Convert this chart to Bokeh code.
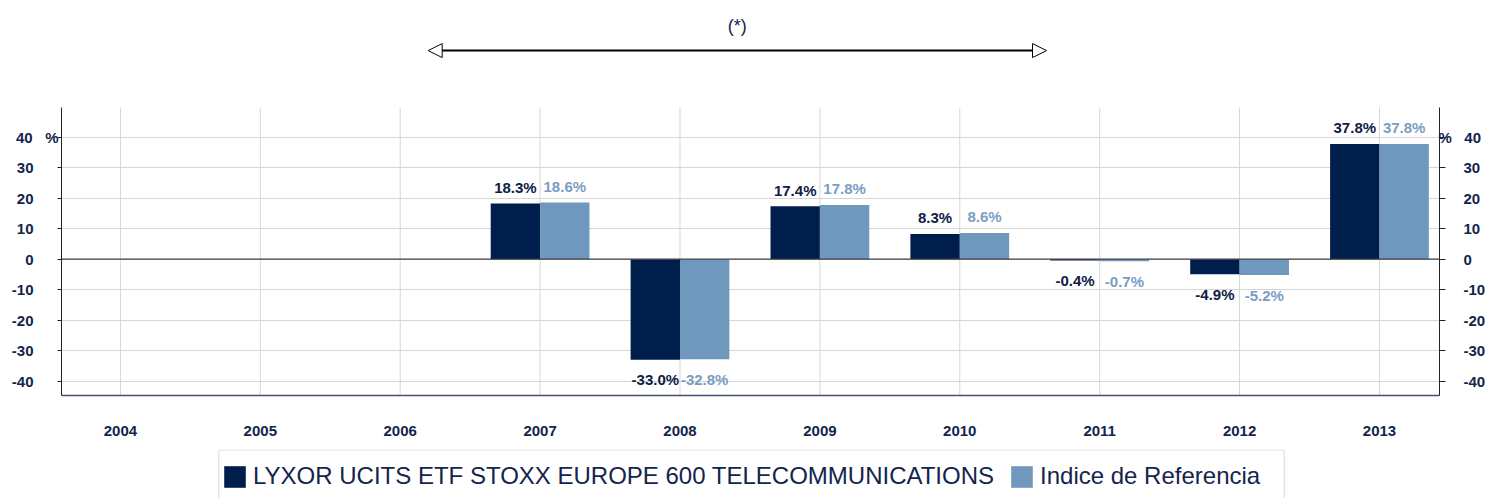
import numpy as np
from bokeh.plotting import figure
from bokeh.layouts import column
from bokeh.models import (ColumnDataSource, Range1d, LinearAxis, FixedTicker, Span,
                          Arrow, NormalHead, Label, Legend, LegendItem)
from bokeh.transform import dodge
from bokeh.core.properties import value
from bokeh.embed import file_html
from bokeh.resources import INLINE

# ---------------- data ----------------
years = ["2004", "2005", "2006", "2007", "2008", "2009", "2010", "2011", "2012", "2013"]
fund_returns = [None, None, None, 18.3, -33.0, 17.4, 8.3, -0.4, -4.9, 37.8]
index_returns = [None, None, None, 18.6, -32.8, 17.8, 8.6, -0.7, -5.2, 37.8]
y_tick_values = [-40, -30, -20, -10, 0, 10, 20, 30, 40]
fund_name = "LYXOR UCITS ETF STOXX EUROPE 600 TELECOMMUNICATIONS"
index_name = "Indice de Referencia"
period_note = "(*)"
unit_label = "%"
period_start = 2.2    # position on category axis (mid 2006)
period_end = 6.62     # position on category axis (late 2010)

# ---------------- styles ----------------
FONT = "Liberation Sans"
NAVY = "#13254d"
DARK = "#001E4B"
LIGHT = "#7098BD"
LIGHT_TXT = "#7A9DC3"
GRID = "#d6d6d6"
NBSP = "\u00a0"

W, H_MAIN, H_LEG = 1488, 449, 49
X0, X1 = -0.4211, 9.4290
Y0, Y_AXIS_TOP, Y1 = -44.69, 49.74, 84.82
ARROW_Y, NOTE_Y = 68.4, 76.6
BAR_W = 0.353
OFF = 0.1765

pos = np.arange(len(years))
valid = [i for i, v in enumerate(fund_returns) if v is not None]
f_vals = np.array([fund_returns[i] for i in valid])
i_vals = np.array([index_returns[i] for i in valid])

src = ColumnDataSource(dict(
    x=pos[valid],
    fund=f_vals,
    index=i_vals,
    fund_lbl=[f"{v:.1f}%" for v in f_vals],
    index_lbl=[f"{v:.1f}%" for v in i_vals],
    fund_off=np.where(f_vals >= 0, -16.0, 20.0),
    index_off=np.where(i_vals >= 0, -16.0, 20.0),
))
grid_src = ColumnDataSource(dict(x=pos, y0=np.full(len(pos), Y0), y1=np.full(len(pos), Y_AXIS_TOP)))

p = figure(width=W, height=H_MAIN, x_range=Range1d(X0, X1), y_range=Range1d(Y0, Y1),
           output_backend="svg", toolbar_location=None,
           min_border_left=61, min_border_right=47, min_border_top=0, min_border_bottom=54)
p.outline_line_color = None

# grids
p.xgrid.visible = False
p.ygrid.ticker = FixedTicker(ticks=y_tick_values)
p.ygrid.grid_line_color = GRID
p.ygrid.grid_line_width = 1
p.segment(x0="x", y0="y0", x1="x", y1="y1", source=grid_src, line_color=GRID, line_width=1)

# bars
r_f = p.vbar(x=dodge("x", -OFF, range=p.x_range), top="fund", width=BAR_W, source=src,
             fill_color=DARK, line_color=None)
r_i = p.vbar(x=dodge("x", OFF, range=p.x_range), top="index", width=BAR_W, source=src,
             fill_color=LIGHT, line_color=None)

p.add_layout(Span(location=0, dimension="width", line_color="#404040", line_width=1.3))

# value labels
p.text(x=dodge("x", -OFF, range=p.x_range), y="fund", text="fund_lbl", y_offset="fund_off",
       source=src, text_align="center", text_baseline="alphabetic",
       text_font=value(FONT), text_font_size="15px", text_font_style="bold", text_color="#0d2045")
p.text(x=dodge("x", OFF, range=p.x_range), y="index", text="index_lbl", y_offset="index_off",
       source=src, text_align="center", text_baseline="alphabetic",
       text_font=value(FONT), text_font_size="15px", text_font_style="bold", text_color=LIGHT_TXT)

# period arrow
arrow = Arrow(x_start=period_start, y_start=ARROW_Y, x_end=period_end, y_end=ARROW_Y,
              line_width=2, line_color="black",
              start=NormalHead(size=14, fill_color="white", line_color="black", line_width=1),
              end=NormalHead(size=14, fill_color="white", line_color="black", line_width=1))
p.add_layout(arrow)
p.add_layout(Label(x=(period_start + period_end) / 2, y=NOTE_Y, text=period_note,
                   text_align="center", text_baseline="middle",
                   text_font=FONT, text_font_size="18px", text_color=NAVY))

# x axis
xa = p.xaxis[0]
xa.ticker = FixedTicker(ticks=list(pos))
xa.major_label_overrides = {int(i): y for i, y in zip(pos, years)}
xa.major_tick_in = 0
xa.major_tick_out = 0
xa.minor_tick_line_color = None
xa.axis_line_color = "#44506e"
xa.axis_line_width = 1.3
xa.major_label_standoff = 30
xa.major_label_text_font = FONT
xa.major_label_text_font_size = "15px"
xa.major_label_text_font_style = "bold"
xa.major_label_text_color = NAVY

top_tick = max(y_tick_values)
left_labels = {t: (f"{t}{NBSP * 3}{unit_label}" if t == top_tick else f"{t}{NBSP * 6}")
               for t in y_tick_values}
right_labels = {t: (f"{unit_label}{NBSP * 3}{t}" if t == top_tick else f"{NBSP * 6}{t}")
                for t in y_tick_values}


def style_axis(ax, tick_out, standoff, overrides):
    ax.ticker = FixedTicker(ticks=y_tick_values)
    ax.bounds = (Y0, Y_AXIS_TOP)
    ax.major_tick_in = 0
    ax.major_tick_out = tick_out
    ax.minor_tick_line_color = None
    ax.axis_line_color = "#222222"
    ax.major_tick_line_color = "#222222"
    ax.major_label_standoff = standoff
    ax.major_label_overrides = overrides
    ax.major_label_text_font = FONT
    ax.major_label_text_font_size = "15px"
    ax.major_label_text_font_style = "bold"
    ax.major_label_text_color = NAVY


style_axis(p.yaxis[0], 4, -1, left_labels)
yr = LinearAxis()
style_axis(yr, 6, -7, right_labels)
p.add_layout(yr, "right")

# ---------------- legend strip ----------------
# x / y ranges of this strip follow page pixels so the legend frame sits where the reference has it
lf = figure(width=W, height=H_LEG, x_range=Range1d(61, 1441), y_range=Range1d(498, 449),
            output_backend="svg", toolbar_location=None,
            x_axis_location=None, y_axis_location=None,
            min_border_left=61, min_border_right=47, min_border_top=0, min_border_bottom=0)
lf.grid.visible = False
lf.outline_line_color = None
lf.quad(left=[218.5], right=[1285.5], top=[449.5], bottom=[510], fill_color=None,
        line_color="#d9d9d9", line_width=1)
lg_f = lf.vbar(x="x", top="fund", width=BAR_W, source=src, fill_color=DARK, line_color=None,
               visible=False)
lg_i = lf.vbar(x="x", top="index", width=BAR_W, source=src, fill_color=LIGHT, line_color=None,
               visible=False)
legend = Legend(items=[LegendItem(label=fund_name, renderers=[lg_f]),
                       LegendItem(label=index_name, renderers=[lg_i])],
                orientation="horizontal", location=(160, 8),
                label_text_font=FONT, label_text_font_size="24px", label_text_color=NAVY,
                glyph_width=27, glyph_height=27, label_standoff=5, spacing=14,
                padding=0, margin=0, border_line_color=None, background_fill_alpha=0,
                inactive_fill_alpha=0)
lf.add_layout(legend)

layout = column(p, lf, spacing=0)
open("out.html", "w").write(file_html(layout, INLINE))
